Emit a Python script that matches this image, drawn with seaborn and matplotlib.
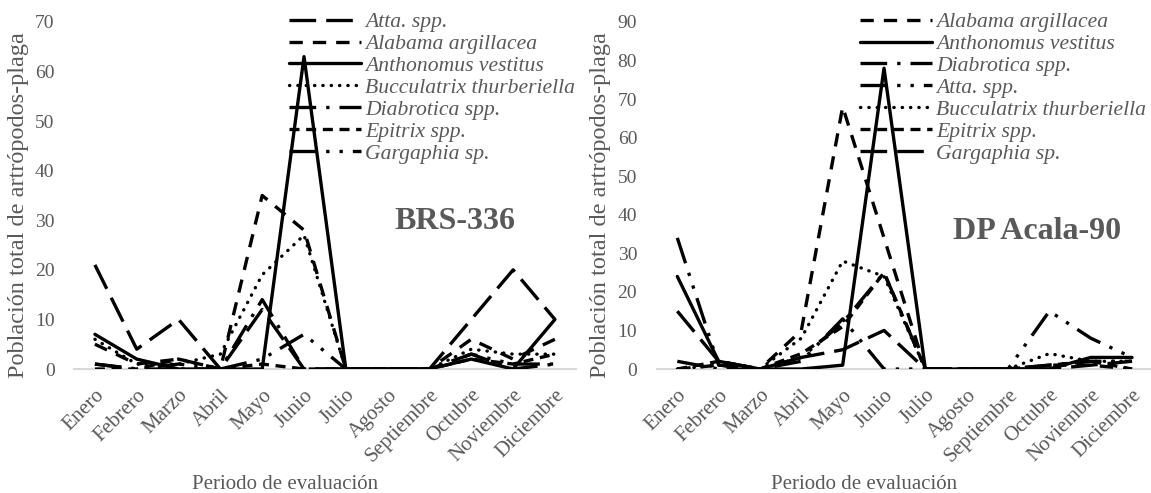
import numpy as np
import pandas as pd
import matplotlib
matplotlib.use("Agg")
import matplotlib.pyplot as plt
import seaborn as sb

# Meses del periodo de evaluación
meses = ["Enero", "Febrero", "Marzo", "Abril", "Mayo", "Junio", "Julio",
         "Agosto", "Septiembre", "Octubre", "Noviembre", "Diciembre"]

# BRS-336
brs_atta = [21, 4, 10, 0, 12, 0, 0, 0, 0, 10, 20, 10]
brs_alabama = [5, 1, 2, 0, 35, 28, 0, 0, 0, 6, 2, 6]
brs_anthonomus = [7, 2, 0, 0, 0, 63, 0, 0, 0, 2, 0, 10]
brs_bucculatrix = [6, 1, 1, 3, 19, 27, 0, 0, 0, 4, 3, 3]
brs_diabrotica = [1, 0, 0, 0, 14, 0, 0, 0, 0, 3, 0, 1]
brs_epitrix = [0, 0, 2, 0, 1, 0, 0, 0, 0, 2, 1, 3]
brs_gargaphia = [1, 0, 1, 0, 2, 7, 0, 0, 0, 3, 1, 1]

# DP Acala-90
dp_alabama = [0, 1, 0, 10, 68, 34, 0, 0, 0, 1, 1, 0]
dp_anthonomus = [24, 2, 0, 0, 1, 78, 0, 0, 0, 0, 3, 3]
dp_diabrotica = [2, 0, 0, 3, 12, 25, 0, 0, 0, 1, 2, 2]
dp_atta = [34, 1, 0, 2, 13, 0, 0, 0, 0, 15, 8, 3]
dp_bucculatrix = [0, 1, 0, 8, 28, 24, 0, 0, 0, 4, 2, 2]
dp_epitrix = [0, 2, 0, 4, 11, 25, 0, 0, 0, 1, 2, 0]
dp_gargaphia = [15, 2, 0, 3, 5, 10, 0, 0, 0, 0, 1, 2]

# Estilos de línea (como en Excel)
LONG_DASH = (8, 3)
DASH = (4, 3)
SOLID = ""
DOT = (0.1, 2.4)
LONG_DASH_DOT = (8, 3, 1, 3)
SHORT_DASH = (3, 2)
LONG_DASH_DOT_DOT = (8, 3, 1, 3, 1, 3)

brs_series = [
    ("Atta. spp.", brs_atta, LONG_DASH),
    ("Alabama argillacea", brs_alabama, DASH),
    ("Anthonomus vestitus", brs_anthonomus, SOLID),
    ("Bucculatrix thurberiella", brs_bucculatrix, DOT),
    ("Diabrotica spp.", brs_diabrotica, LONG_DASH_DOT),
    ("Epitrix spp.", brs_epitrix, SHORT_DASH),
    ("Gargaphia sp.", brs_gargaphia, LONG_DASH_DOT_DOT),
]
dp_series = [
    ("Alabama argillacea", dp_alabama, DASH),
    ("Anthonomus vestitus", dp_anthonomus, SOLID),
    ("Diabrotica spp.", dp_diabrotica, LONG_DASH_DOT),
    ("Atta. spp.", dp_atta, LONG_DASH_DOT_DOT),
    ("Bucculatrix thurberiella", dp_bucculatrix, DOT),
    ("Epitrix spp.", dp_epitrix, SHORT_DASH),
    ("Gargaphia sp.", dp_gargaphia, LONG_DASH),
]

sb.set_style("white")
plt.rcParams["font.family"] = ["Liberation Serif", "DejaVu Serif"]
GRAY = "#595959"

fig = plt.figure(figsize=(11.51, 4.93), dpi=100)
ax1 = fig.add_axes([0.0643, 0.2515, 0.436, 0.704])
ax2 = fig.add_axes([0.5705, 0.2515, 0.431, 0.704])


def draw_panel(ax, series, ymax, title, title_xy, legend_x, xlab_x, ylab_x):
    rows = []
    for name, vals, _ in series:
        for i, v in enumerate(vals):
            rows.append({"mes": i, "valor": v, "especie": name})
    data = pd.DataFrame(rows)
    names = [s[0] for s in series]
    dashes = {s[0]: s[2] for s in series}
    sb.lineplot(data=data, x="mes", y="valor", hue="especie", style="especie",
                hue_order=names, style_order=names, dashes=dashes,
                palette=["black"] * len(names), linewidth=2.4, legend=False,
                ax=ax, zorder=3)
    lines = ax.get_lines()
    for ln, s in zip(lines, series):
        if s[2] == DOT:
            ln.set_dash_capstyle("round")

    ax.set_xlim(-0.5, 11.5)
    ax.set_ylim(0, ymax)
    ax.set_yticks(np.arange(0, ymax + 1, 10))
    ax.set_xticks(range(12))
    ax.set_xticklabels(meses, rotation=45, ha="right", rotation_mode="anchor",
                       fontsize=15, color=GRAY)
    ax.tick_params(axis="y", labelsize=14, labelcolor=GRAY, length=0, pad=14)
    ax.tick_params(axis="x", length=0, pad=12)
    for side in ["top", "right", "left"]:
        ax.spines[side].set_visible(False)
    ax.spines["bottom"].set_color("#D9D9D9")
    ax.spines["bottom"].set_linewidth(1.5)
    ax.set_xlabel("Periodo de evaluación", fontsize=15, color=GRAY, va="center")
    ax.xaxis.set_label_coords(xlab_x, -0.334)
    ax.set_ylabel("Población total de artrópodos-plaga", fontsize=17.5,
                  color=GRAY, va="center")
    ax.yaxis.set_label_coords(ylab_x, 0.473)
    ax.text(title_xy[0], title_xy[1], title, transform=ax.transAxes,
            fontsize=23, fontweight="bold", color=GRAY, ha="center", va="center")

    leg = ax.legend(lines, names, loc="upper left",
                    bbox_to_anchor=(legend_x, 0.98), bbox_transform=fig.transFigure,
                    frameon=False, handlelength=3.3, handletextpad=0.2,
                    labelspacing=0.08, borderpad=0.1, borderaxespad=0,
                    prop={"style": "italic", "size": 15.6})
    for t in leg.get_texts():
        t.set_color(GRAY)


draw_panel(ax1, brs_series, 70, "BRS-336", (0.759, 0.424), 0.2493, 0.42, -0.11)
draw_panel(ax2, dp_series, 90, "DP Acala-90", (0.767, 0.395), 0.7454, 0.419, -0.113)

fig.savefig("out.png", dpi=100)
